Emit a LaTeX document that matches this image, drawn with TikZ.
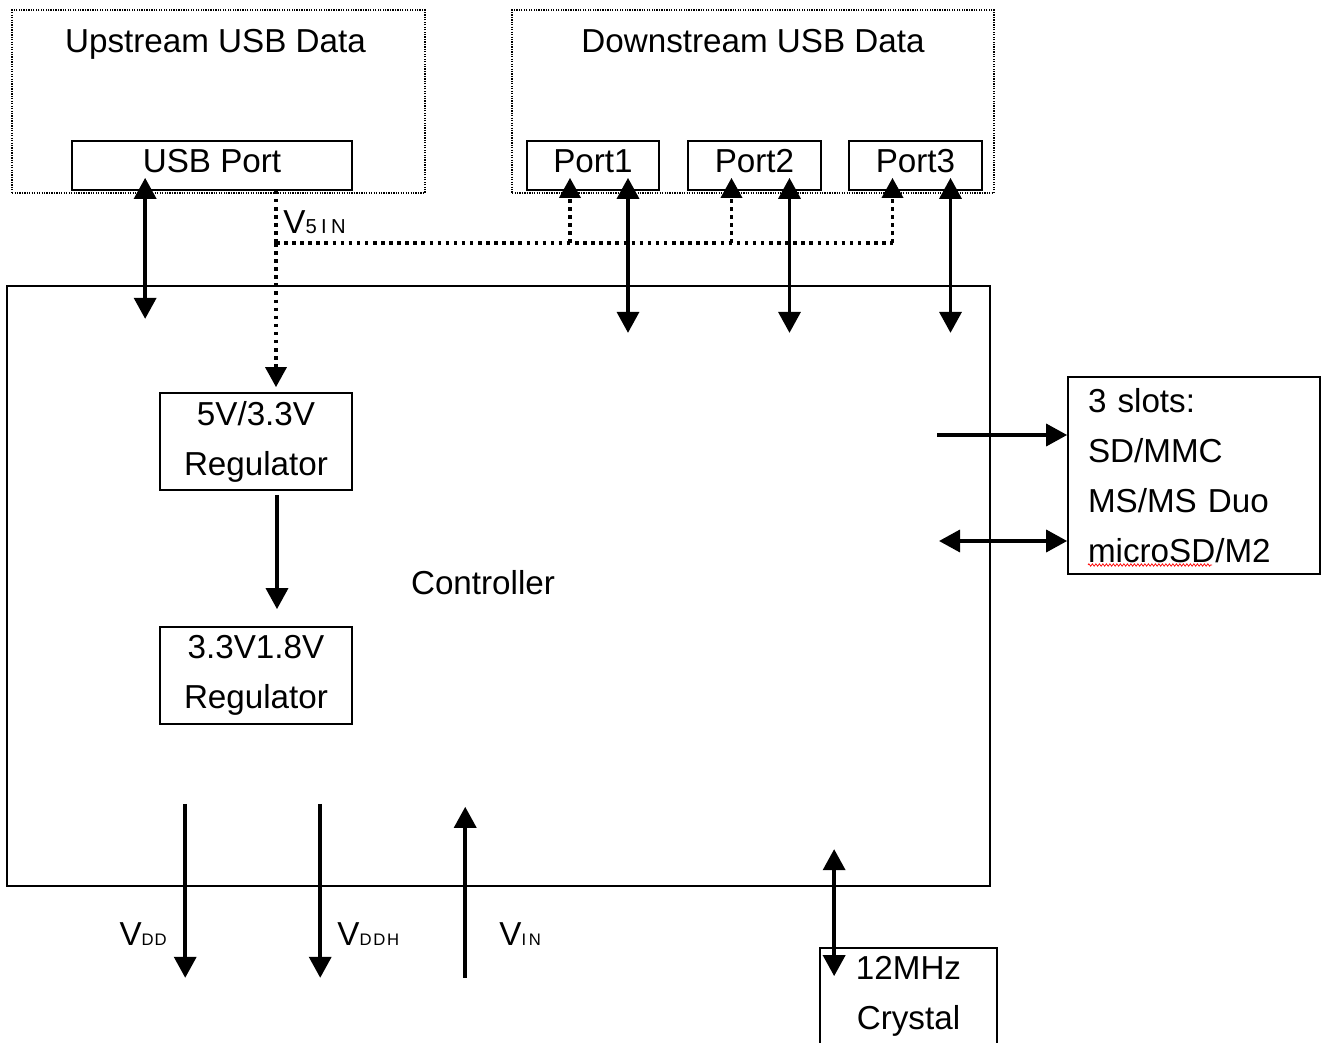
\documentclass[tikz,border=0pt]{standalone}
\usepackage{fontspec}
\setmainfont{Liberation Sans}
\usetikzlibrary{calc, arrows.meta, decorations.pathmorphing}

\tikzset{
    txt/.style={font=\fontsize{18.9}{28.45}\selectfont, align=center, inner sep=0pt},
    box/.style={txt, draw, line width=1pt},
    zone/.style={draw, line width=0.7pt, dash pattern=on 0.7pt off 0.7pt, inner sep=0pt},
    port/.style={minimum height=0.98cm, text height=0.48cm, text depth=0.18cm},
    regbox/.style={minimum width=3.84cm, minimum height=1.94cm},
    arr/.style={line width=2pt, -{Triangle[width=0.44cm,length=0.42cm]}},
    dblarr/.style={line width=2pt, {Triangle[width=0.44cm,length=0.42cm]}-{Triangle[width=0.44cm,length=0.42cm]}},
    dotline/.style={line width=2pt, dash pattern=on 2pt off 2.6pt},
    dotarr/.style={dotline, -{Triangle[width=0.42cm,length=0.4cm]}},
}

\begin{document}
\begin{tikzpicture}[x=0.02cm, y=-0.02cm]
    \useasboundingbox (0,0) rectangle (1325,1043);

    \node[zone, minimum width=8.26cm, minimum height=3.66cm] (up) at (218.5,101.5) {};
    \node[txt, anchor=base] (uptitle) at (215.5,53) {Upstream USB Data};
    \node[zone, minimum width=9.64cm, minimum height=3.66cm] (down) at (753,101.5) {};
    \node[txt, anchor=base] (downtitle) at (753,53) {Downstream USB Data};

    \node[box, port, minimum width=5.6cm] (usb) at (212,165.5) {USB Port};
    \node[box, port, minimum width=2.64cm] (p1) at (593,165.5) {Port1};
    \node[box, port, minimum width=2.66cm] (p2) at (754.5,165.5) {Port2};
    \node[box, port, minimum width=2.66cm] (p3) at (915.5,165.5) {Port3};

    \node[box, minimum width=19.66cm, minimum height=12cm] (ctrl) at (498.5,586) {};
    \node[txt] (ctrlname) at (483,583) {Controller};
    \node[box, regbox] (reg1) at (256,441.5) {5V/3.3V\\Regulator};
    \node[box, regbox] (reg2) at (256,675.5) {3.3V1.8V\\Regulator};

    \node[box, align=left, text width=4.24cm, inner xsep=0.4cm, minimum height=3.94cm] (slots) at (1194,475.5) {3 slots:\\SD/MMC\\MS/MS Duo\\microSD/M2};
    \draw[red, line width=0.4pt, decorate, decoration={zigzag, amplitude=0.025cm, segment length=0.07cm}] (1088,565) -- (1212,565);

    \node[box, minimum width=3.54cm, minimum height=1.94cm] (xtal) at (908.5,996.5) {12MHz\\Crystal};

    % V5IN supply
    \coordinate (bus) at (276,243);
    \draw[dotline] (usb.south -| bus) -- (bus);
    \draw[dotarr] (bus) -- ($(reg1.north -| bus)+(0,-5)$);
    \draw[dotline] (bus) -- ($(p3.south |- bus)+(-22.5,0)$);
    \node[txt, anchor=west] (v5in) at (283,222) {V{\fontsize{11.5}{12}\selectfont 5\kern2.5pt I\kern2.5pt N}};

    % data lines
    \draw[dblarr] ($(usb.south west)+(74,-13)$) -- ($(usb.south west)+(74,128)$);
    \foreach \p in {p1,p2,p3} {
        \draw[dotarr] ($(\p.south |- bus)+(-23,0)$) -- ($(\p.south)+(-23,-13)$);
        \draw[dblarr] ($(\p.south)+(35,-13)$) -- ($(\p.south)+(35,142)$);
    }

    \draw[arr] ($(reg1.south)+(21,4)$) -- ($(reg2.north)+(21,-17)$);

    \coordinate (cin) at (937,435);
    \coordinate (cio) at (939,541);
    \draw[arr] (cin) -- (cin -| slots.west);
    \draw[dblarr] (cio) -- (cio -| slots.west);

    % supplies
    \draw[arr] ($(ctrl.south west)+(179,-83)$) -- ++(0,174) coordinate (vdd);
    \draw[arr] ($(ctrl.south west)+(314,-83)$) -- ++(0,174) coordinate (vddh);
    \draw[arr] ($(ctrl.south west)+(459,91)$) coordinate (vin) -- ++(0,-171);
    \node[txt, anchor=east] (vddlbl) at (167,934) {V{\fontsize{9.5}{10}\selectfont D\kern0.5pt D}};
    \node[txt, anchor=west] (vddhlbl) at (337,934) {V{\fontsize{9.5}{10}\selectfont D\kern1pt D\kern1pt H}};
    \node[txt, anchor=west] (vinlbl) at (499,934) {V{\fontsize{9.5}{10}\selectfont I\kern1.5pt N}};

    \draw[dblarr] ($(xtal.north west)+(15,-98)$) -- ($(xtal.north west)+(15,29)$);
\end{tikzpicture}
\end{document}
